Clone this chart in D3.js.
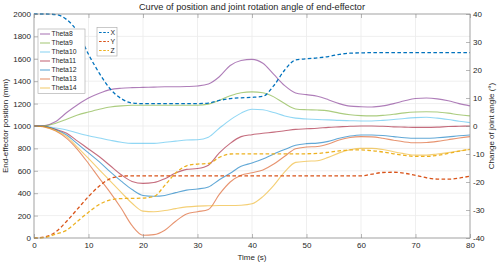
<!DOCTYPE html>
<html>
<head>
<meta charset="utf-8">
<script src="https://cdn.jsdelivr.net/npm/d3@7"></script>
<style>
  body { margin: 0; background: #fff; }
  text { font-family: "Liberation Sans", Arial, sans-serif; fill: #262626; }
</style>
</head>
<body>
<div id="chart"></div>
<script>
// Time grid (s), shared by every series
const time = [0, 2, 4, 6, 8, 10, 12, 14, 16, 18, 20, 22, 24, 26, 28, 30, 32, 34, 36, 38, 40,
              42, 44, 46, 48, 50, 52, 54, 56, 58, 60, 62, 64, 66, 68, 70, 72, 74, 76, 78, 80];

// End-effector position (mm), left axis
const posX = [2000, 2000, 1995, 1950, 1840, 1640, 1470, 1330, 1245, 1205, 1200, 1200, 1200, 1200, 1200, 1200, 1205, 1228, 1245, 1252, 1256,
              1265, 1360, 1500, 1590, 1600, 1608, 1620, 1640, 1650, 1653, 1655, 1655, 1655, 1655, 1655, 1655, 1655, 1655, 1655, 1655];
const posY = [0, 10, 55, 150, 260, 370, 465, 530, 552, 555, 555, 555, 555, 555, 555, 555, 555, 555, 555, 555, 555,
              555, 555, 555, 555, 555, 555, 555, 555, 555, 555, 570, 585, 587, 578, 560, 538, 526, 525, 535, 553];
const posZ = [0, 5, 35, 70, 150, 230, 300, 340, 352, 354, 356, 370, 470, 580, 645, 660, 665, 720, 750, 752, 752,
              752, 752, 752, 752, 752, 755, 765, 778, 786, 786, 780, 768, 752, 738, 728, 728, 738, 755, 775, 792];

// Change of joint angle (deg), right axis
const theta8  = [0, 0.2, 1.6, 4.8, 7.6, 10, 11.7, 13, 13.5, 13.7, 13.8, 13.9, 14, 14, 14.1, 14.3, 15, 17.6, 21.6, 23.4, 23.8,
                 22.4, 18.4, 14.4, 11.8, 11.2, 10.6, 9.4, 8, 7.1, 6.9, 6.8, 7.2, 8, 9, 9.8, 10, 9.7, 9, 8, 7.2];
const theta9  = [0, 0.1, 1, 2.4, 3.9, 5, 6, 6.8, 7.2, 7.4, 7.4, 7.4, 7.4, 7.4, 7.4, 7.4, 7.8, 9.2, 10.8, 11.9, 12.2,
                 11.9, 10.4, 8, 6.1, 5.8, 5.7, 5.4, 4.6, 4, 3.7, 3.6, 3.8, 4.2, 4.7, 5, 5.1, 5, 4.6, 4, 3.6];
const theta10 = [0, -0.2, -0.7, -1.4, -2.5, -3.5, -4.3, -5.1, -5.8, -6.2, -6.2, -6.2, -5.8, -5.4, -5, -4.9, -4, -0.8, 2.2, 4.6, 6,
                 5.8, 4.8, 3.6, 2.8, 2.5, 2.3, 2.2, 2, 1.9, 1.8, 1.8, 2, 2.3, 2.7, 3, 3.1, 2.8, 2.3, 1.7, 1.2];
const theta11 = [0, -0.2, -1.2, -2.6, -5.4, -8.2, -11, -14.2, -17.4, -19.8, -20.5, -20.2, -18.8, -16.8, -15.5, -15.2, -14, -9.6, -6.2, -3.8, -3.1,
                 -2.6, -2.2, -1.7, -1.2, -1, -0.8, -0.5, -0.3, -0.1, 0, 0, -0.1, -0.3, -0.4, -0.5, -0.5, -0.4, -0.2, -0.1, 0];
const theta12 = [0, -0.2, -1.3, -3.2, -6.4, -9.6, -12.8, -16.4, -19.7, -22.7, -24.8, -25.1, -24.8, -23.8, -22.9, -22.5, -21.8, -19.2, -16.9, -14.4, -13.2,
                 -11.8, -10, -8.4, -6.9, -6.3, -6.1, -5.5, -4.4, -3.6, -3.2, -3.2, -3.4, -3.8, -4.2, -4.4, -4.4, -4.2, -3.9, -3.5, -3.2];
const theta13 = [0, -0.4, -1.8, -4.4, -8.4, -13.4, -18.7, -23.8, -29.4, -35.6, -39, -38.8, -37.2, -34, -31.4, -30.6, -29.8, -24.4, -20, -17.6, -16.7,
                 -15.7, -13.6, -10.8, -8.1, -7.5, -7.3, -6.4, -5, -4.1, -3.8, -3.9, -4.4, -5.1, -5.7, -6, -5.9, -5.5, -4.9, -4.3, -3.8];
const theta14 = [0, -0.3, -1.6, -3.8, -7.6, -11.6, -15.7, -19.7, -23.7, -27.6, -30.4, -30.6, -30.2, -29.5, -28.9, -28.6, -28.5, -28.4, -28.4, -28.3, -27.8,
                 -25.2, -21.2, -16.4, -13, -12.6, -12.4, -11.2, -9.6, -8.5, -8, -8, -8.4, -9.2, -9.9, -10.4, -10.4, -10, -9.5, -8.9, -8.4];

const xTicks = [0, 10, 20, 30, 40, 50, 60, 70, 80];
const leftTicks = [0, 200, 400, 600, 800, 1000, 1200, 1400, 1600, 1800, 2000];
const rightTicks = [-40, -30, -20, -10, 0, 10, 20, 30, 40];

const thetaSeries = [
  { name: "Theta8",  values: theta8,  color: "#7E2F8E" },
  { name: "Theta9",  values: theta9,  color: "#77AC30" },
  { name: "Theta10", values: theta10, color: "#4DBEEE" },
  { name: "Theta11", values: theta11, color: "#A2142F" },
  { name: "Theta12", values: theta12, color: "#0072BD" },
  { name: "Theta13", values: theta13, color: "#D95319" },
  { name: "Theta14", values: theta14, color: "#EDB120" }
];
const posSeries = [
  { name: "X", values: posX, color: "#0072BD" },
  { name: "Y", values: posY, color: "#D95319" },
  { name: "Z", values: posZ, color: "#EDB120" }
];

const margin = { top: 14, right: 30, bottom: 27, left: 34 };
const W = 500, H = 265;
const width = W - margin.left - margin.right;
const height = H - margin.top - margin.bottom;

const root = d3.select("#chart").append("svg")
    .attr("width", W)
    .attr("height", H);
const svg = root.append("g")
    .attr("transform", `translate(${margin.left},${margin.top})`);

const x = d3.scaleLinear().domain([0, 80]).range([0, width]);
const yL = d3.scaleLinear().domain([0, 2000]).range([height, 0]);
const yR = d3.scaleLinear().domain([-40, 40]).range([height, 0]);

// Grid
svg.append("g").selectAll("line").data(xTicks.slice(1, -1)).enter().append("line")
    .attr("x1", d => x(d)).attr("x2", d => x(d))
    .attr("y1", 0).attr("y2", height)
    .attr("stroke", "#ebebeb").attr("stroke-width", 0.8);
svg.append("g").selectAll("line").data(leftTicks.slice(1, -1)).enter().append("line")
    .attr("x1", 0).attr("x2", width)
    .attr("y1", d => yL(d)).attr("y2", d => yL(d))
    .attr("stroke", "#ebebeb").attr("stroke-width", 0.8);

// Lines
const lineFor = scale => d3.line()
    .x((d, i) => x(time[i]))
    .y(d => scale(d))
    .curve(d3.curveMonotoneX);

thetaSeries.forEach(s => {
    svg.append("path")
        .datum(s.values)
        .attr("fill", "none")
        .attr("stroke", s.color)
        .attr("stroke-opacity", 0.62)
        .attr("stroke-width", 1.1)
        .attr("d", lineFor(yR));
});

posSeries.forEach(s => {
    svg.append("path")
        .datum(s.values)
        .attr("fill", "none")
        .attr("stroke", s.color)
        .attr("stroke-width", 1.3)
        .attr("stroke-dasharray", "3.6,2.4")
        .attr("d", lineFor(yL));
});

// Axes
const axisColor = "#8a8a8a";
function styleAxis(g) {
    g.select(".domain").remove();
    g.selectAll(".tick line").attr("stroke", axisColor).attr("stroke-width", 0.6);
    g.selectAll(".tick text").style("font-size", "8px").attr("fill", "#262626");
}
svg.append("g")
    .attr("transform", `translate(0,${height})`)
    .call(d3.axisBottom(x).tickValues(xTicks).tickSize(-4).tickPadding(4).tickFormat(d => String(d)))
    .call(styleAxis);
svg.append("g")
    .call(d3.axisTop(x).tickValues(xTicks).tickSize(-4).tickFormat(""))
    .call(styleAxis);
svg.append("g")
    .call(d3.axisLeft(yL).tickValues(leftTicks).tickSize(-4).tickPadding(3).tickFormat(d => String(d)))
    .call(styleAxis);
svg.append("g")
    .attr("transform", `translate(${width},0)`)
    .call(d3.axisRight(yR).tickValues(rightTicks).tickSize(-4).tickPadding(3).tickFormat(d => String(d)))
    .call(styleAxis);

svg.append("rect")
    .attr("width", width).attr("height", height)
    .attr("fill", "none")
    .attr("stroke", axisColor)
    .attr("stroke-width", 0.8);

// Titles and labels
root.append("text")
    .attr("x", margin.left + width / 2).attr("y", 10)
    .attr("text-anchor", "middle")
    .style("font-size", "9.2px")
    .text("Curve of position and joint rotation angle of end-effector");
root.append("text")
    .attr("x", margin.left + width / 2).attr("y", 260)
    .attr("text-anchor", "middle")
    .style("font-size", "8px")
    .text("Time (s)");
root.append("text")
    .attr("transform", `translate(8,${margin.top + height / 2}) rotate(-90)`)
    .attr("text-anchor", "middle")
    .style("font-size", "8px")
    .text("End-effector position (mm)");
root.append("text")
    .attr("transform", `translate(494,${margin.top + height / 2}) rotate(-90)`)
    .attr("text-anchor", "middle")
    .style("font-size", "8px")
    .text("Change of joint angle (°)");

// Legends
function legend(items, lx, ly, w, rowH, dashed) {
    const g = root.append("g").attr("transform", `translate(${lx},${ly})`);
    g.append("rect")
        .attr("width", w).attr("height", items.length * rowH + 1.5)
        .attr("fill", "#fff")
        .attr("stroke", "#a6a6a6")
        .attr("stroke-width", 0.6);
    items.forEach((s, i) => {
        const cy = 0.5 + rowH * (i + 0.5);
        g.append("line")
            .attr("x1", 2).attr("x2", 12)
            .attr("y1", cy).attr("y2", cy)
            .attr("stroke", s.color)
            .attr("stroke-opacity", dashed ? 1 : 0.62)
            .attr("stroke-width", dashed ? 1.2 : 1.1)
            .attr("stroke-dasharray", dashed ? "2.6,1.6" : null);
        g.append("text")
            .attr("x", 13.5).attr("y", cy + 2.4)
            .style("font-size", "6.8px")
            .text(s.name);
    });
}
legend(thetaSeries, 38, 29, 47, 9, false);
legend(posSeries, 97, 27.5, 20, 9, true);
</script>
</body>
</html>
